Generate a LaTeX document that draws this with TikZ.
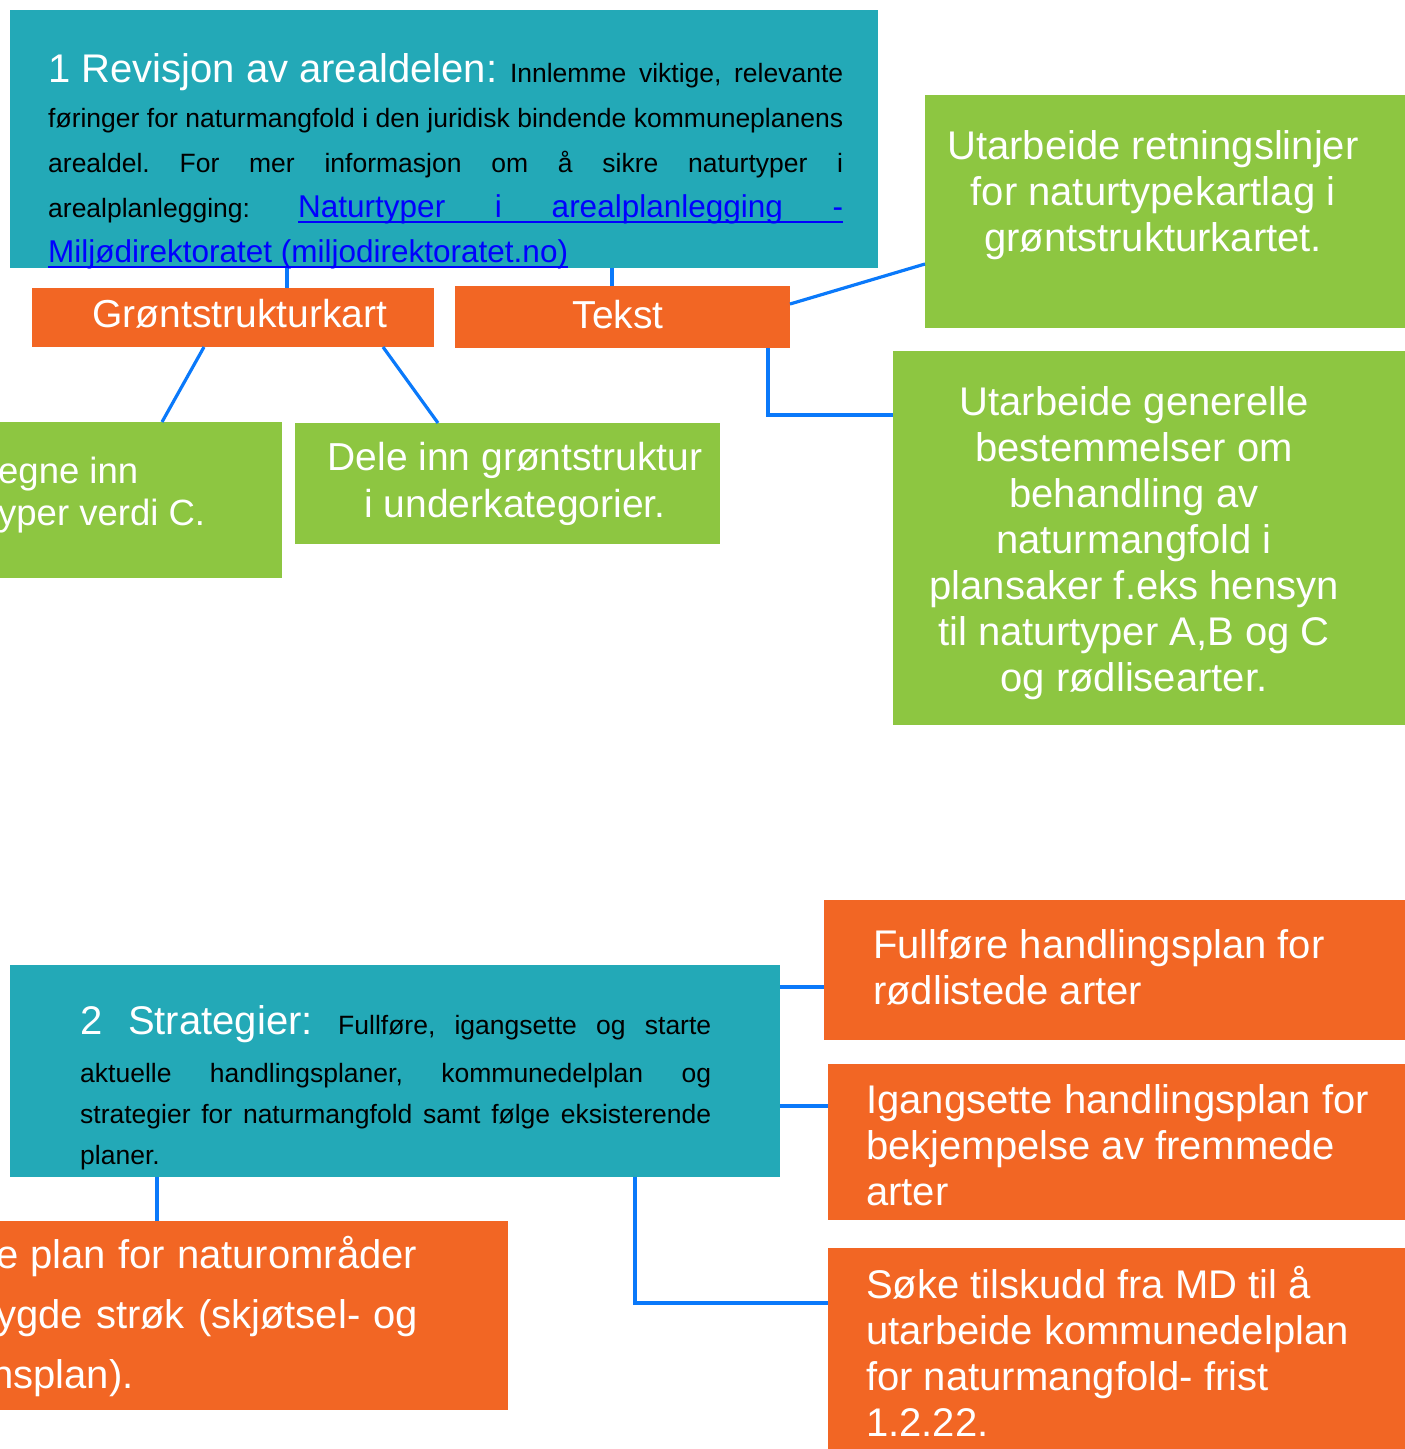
\documentclass[tikz,border=0pt]{standalone}
\usepackage{fontspec}
\setmainfont{Liberation Sans}
\definecolor{tealc}{RGB}{35,169,183}
\definecolor{orangec}{RGB}{242,102,36}
\definecolor{greenc}{RGB}{141,198,65}
\definecolor{linec}{RGB}{10,121,250}
\definecolor{linkc}{RGB}{0,0,255}
\newcommand\lnkul[1]{{\setbox0=\hbox{#1}\rlap{\color{linkc}\rule[-6pt]{\wd0}{2.5pt}}\box0}}
\newcommand\lnkfont{\fontsize{31.5}{45}\selectfont}
\frenchspacing
\begin{document}
\begin{tikzpicture}[x=1pt,y=-1pt,
  box/.style={rectangle, inner sep=0pt, outer sep=0pt, anchor=north west, draw=none},
  tealbox/.style={box, fill=tealc},
  orangebox/.style={box, fill=orangec},
  greenbox/.style={box, fill=greenc},
  conn/.style={draw=linec, line width=3.2pt},
  bodytxt/.style={inner sep=0pt, anchor=base west, align=left, font=\fontsize{26.5}{45}\selectfont},
  boxtxt/.style={inner sep=0pt, text=white, anchor=base west, align=left, font=\fontsize{40}{46}\selectfont},
  ctxt/.style={boxtxt, anchor=base, align=center},
]
\useasboundingbox (0,0) rectangle (1405,1449);
\clip (0,0) rectangle (1405,1449);
% boxes
\node[tealbox, minimum width=868pt, minimum height=258pt] (t1) at (10,10) {};
\node[orangebox, minimum width=402pt, minimum height=59pt] (gk) at (32,288) {};
\node[orangebox, minimum width=335pt, minimum height=62pt] (tk) at (455,286) {};
\node[greenbox, minimum width=490pt, minimum height=233pt] (g1) at (925,95) {};
\node[greenbox, minimum width=522pt, minimum height=374pt] (g2) at (893,351) {};
\node[greenbox, minimum width=292pt, minimum height=156pt] (gl) at (-10,422) {};
\node[greenbox, minimum width=425pt, minimum height=121pt] (gd) at (295,423) {};
\node[tealbox, minimum width=770pt, minimum height=212pt] (t2) at (10,965) {};
\node[orangebox, minimum width=591pt, minimum height=140pt] (o1) at (824,900) {};
\node[orangebox, minimum width=587pt, minimum height=156pt] (o2) at (828,1064) {};
\node[orangebox, minimum width=587pt, minimum height=211pt] (o3) at (828,1248) {};
\node[orangebox, minimum width=518pt, minimum height=189pt] (ol) at (-10,1221) {};
% connectors
\draw[conn] ([xshift=277pt]t1.south west) -- ([xshift=255pt]gk.north west);
\draw[conn] ([xshift=602pt]t1.south west) -- ([xshift=157pt]tk.north west);
\draw[conn] ([xshift=172pt]gk.south west) -- ([xshift=172pt]gl.north west);
\draw[conn] ([xshift=351pt]gk.south west) -- ([xshift=143pt]gd.north west);
\draw[conn] ([yshift=-18pt]tk.north east) -- ([yshift=-169pt]g1.north west);
\draw[conn] ([xshift=313pt]tk.south west) |- ([yshift=-64pt]g2.north west);
\draw[conn] ([yshift=-22pt]t2.north east) -- ([yshift=-87pt]o1.north west);
\draw[conn] ([yshift=-141pt]t2.north east) -- ([yshift=-42pt]o2.north west);
\draw[conn] ([xshift=625pt]t2.south west) |- ([yshift=-55pt]o3.north west);
\draw[conn] ([xshift=147pt]t2.south west) -- ([xshift=167pt]ol.north west);
% texts (base anchor = baseline of the last line)
\node[bodytxt] (t1txt) at (48,262) {%
\makebox[795pt][s]{\mbox{\fontsize{40}{45}\selectfont\color{white}1 Revisjon av arealdelen:} Innlemme viktige, relevante}\\
\makebox[795pt][s]{føringer for naturmangfold i den juridisk bindende kommuneplanens}\\
\makebox[795pt][s]{arealdel. For mer informasjon om å sikre naturtyper i}\\
\makebox[795pt][l]{arealplanlegging:\hfill{\lnkfont\color{linkc}\lnkul{\makebox[545pt][s]{Naturtyper i arealplanlegging -}}}}\\
{\lnkfont\color{linkc}\lnkul{Miljødirektoratet (miljodirektoratet.no)}}};
\node[bodytxt, font=\fontsize{26.5}{41}\selectfont] (t2txt) at (80,1164) {%
\makebox[631pt][l]{\mbox{\fontsize{40}{41}\selectfont\color{white}\makebox[48pt][l]{2}Strategier:}\hfill\makebox[373pt][s]{Fullføre, igangsette og starte}}\\[7pt]
\makebox[631pt][s]{aktuelle handlingsplaner, kommunedelplan og}\\
\makebox[631pt][s]{strategier for naturmangfold samt følge eksisterende}\\
planer.};
\node[ctxt, font=\fontsize{39}{46}\selectfont] (gktxt) at (240,327) {Grøntstrukturkart};
\node[ctxt, font=\fontsize{39}{46}\selectfont] (tktxt) at (618,328) {Tekst};
\node[ctxt] (g1txt) at (1153,251) {Utarbeide retningslinjer\\for naturtypekartlag i\\grøntstrukturkartet.};
\node[ctxt] (g2txt) at (1134,691) {Utarbeide generelle\\bestemmelser om\\behandling av\\naturmangfold i\\plansaker f.eks hensyn\\til naturtyper A,B og C\\og rødlisearter.};
\node[ctxt, font=\fontsize{39}{47}\selectfont] (gdtxt) at (515,517) {Dele inn grøntstruktur\\i underkategorier.};
\node[boxtxt, font=\fontsize{36.5}{42}\selectfont] (gltxt) at (-2,525) {egne inn\\yper verdi C.};
\node[boxtxt] (o1txt) at (873,1004) {Fullføre handlingsplan for\\rødlistede arter};
\node[boxtxt] (o2txt) at (866,1205) {Igangsette handlingsplan for\\bekjempelse av fremmede\\arter};
\node[boxtxt] (o3txt) at (866,1436) {Søke tilskudd fra MD til å\\utarbeide kommunedelplan\\for naturmangfold- frist\\1.2.22.};
\node[boxtxt, font=\fontsize{40}{60}\selectfont] (oltxt) at (-4,1388) {%
\makebox[421pt][s]{e plan for naturområder}\\
\makebox[422pt][s]{ygde strøk (skjøtsel- og}\\
\hspace*{-5pt}nsplan).};
\end{tikzpicture}
\end{document}
